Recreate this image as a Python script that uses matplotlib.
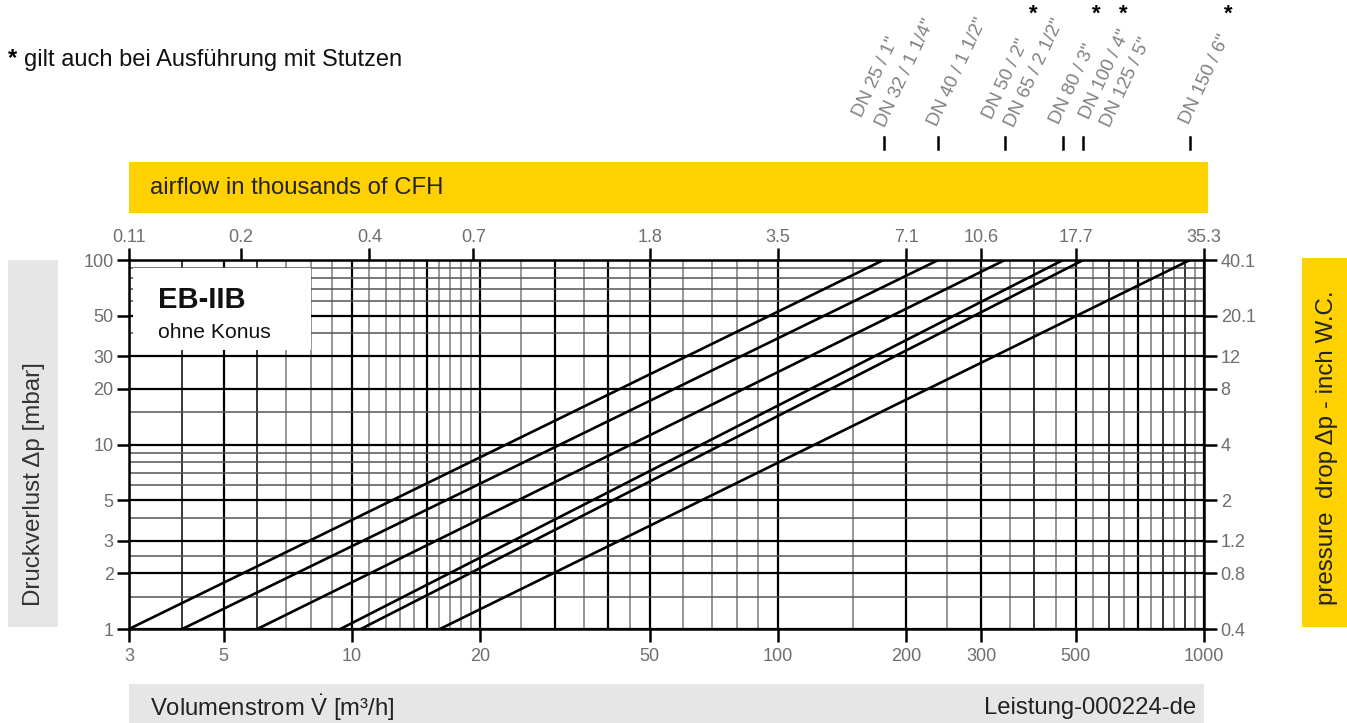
import math
import matplotlib
matplotlib.use("Agg")
import matplotlib.pyplot as plt
from matplotlib.patches import Rectangle

plt.rcParams['font.family'] = ['Liberation Sans', 'DejaVu Sans']
plt.rcParams['mathtext.fontset'] = 'custom'
plt.rcParams['mathtext.rm'] = 'Liberation Sans'

W, H = 1347, 723

# flow [m3/h] of each curve at 1 mbar and at 100 mbar
flow_at_1 = [3.0, 4.0, 6.0, 9.4, 10.5, 16.1]
flow_at_100 = [177, 238, 341, 467, 521, 927]
dp_ends = [1, 100]

# DN labels at the top
dn_labels = ['DN 25 / 1"', 'DN 32 / 1 1/4"', 'DN 40 / 1 1/2"', 'DN 50 / 2"',
             'DN 65 / 2 1/2"', 'DN 80 / 3"', 'DN 100 / 4"', 'DN 125 / 5"', 'DN 150 / 6"']
dn_star = [False, False, False, False, True, False, True, True, True]

# axes ticks
x_ticks = [3, 5, 10, 20, 50, 100, 200, 300, 500, 1000]
y_ticks = [1, 2, 3, 5, 10, 20, 30, 50, 100]
inch_wc = ['0.4', '0.8', '1.2', '2', '4', '8', '12', '20.1', '40.1']
cfh_pos = [3, 5.5, 11, 19.3, 50, 100, 200, 300, 500, 1000]
cfh_labels = ['0.11', '0.2', '0.4', '0.7', '1.8', '3.5', '7.1', '10.6', '17.7', '35.3']

# grid
x_grid = ([3, 4, 5, 6, 7, 8, 9] + list(range(10, 20)) + [20, 25, 30, 35, 40, 45]
          + [50, 60, 70, 80, 90] + list(range(100, 1001, 50)))
x_heavy = [3, 5, 10, 15, 20, 30, 40, 50, 100, 200, 300, 500, 700, 1000]
x_gray = [7, 8, 9, 11, 12, 13, 14, 16, 17, 18, 19, 25, 35, 45, 60, 70, 80, 90,
          150, 250, 350, 450, 550, 650, 750, 850, 950]
y_grid = [1, 1.5, 2, 2.5, 3, 4, 5, 6, 7, 8, 9, 10, 15, 20, 30, 40, 50, 60, 70, 80, 90, 100]
y_heavy = [1, 2, 3, 5, 10, 20, 30, 50, 100]


def fx(px):
    return px / W


def fy(py):
    return 1 - py / H


def box(x0, y0, x1, y1, color):
    fig.add_artist(Rectangle((fx(x0), fy(y1)), fx(x1) - fx(x0), fy(y0) - fy(y1),
                             transform=fig.transFigure, facecolor=color,
                             edgecolor='none', zorder=0))


fig = plt.figure(figsize=(W / 100, H / 100), dpi=100)
ax = fig.add_axes([fx(129), fy(629), fx(1204) - fx(129), fy(260) - fy(629)])
ax.set_xscale('log')
ax.set_yscale('log')
ax.set_xlim(3, 1000)
ax.set_ylim(1, 100)

tick_col = '#6e6e6e'

for v in x_grid:
    if v in x_heavy:
        ax.axvline(v, color='black', lw=1.6, zorder=1)
    elif v in x_gray:
        ax.axvline(v, color='#7a7a7a', lw=1.1, zorder=1)
    else:
        ax.axvline(v, color='black', lw=1.1, zorder=1)
for v in y_grid:
    if v in y_heavy:
        ax.axhline(v, color='black', lw=1.6, zorder=1)
    else:
        ax.axhline(v, color='#555555', lw=1.1, zorder=1)

for a, b in zip(flow_at_1, flow_at_100):
    ax.plot([a, b], dp_ends, color='black', lw=1.9, solid_capstyle='butt', zorder=3)

for s in ax.spines.values():
    s.set_linewidth(1.8)
    s.set_zorder(4)

ax.set_xticks(x_ticks)
ax.set_xticklabels([str(v) for v in x_ticks])
ax.set_yticks(y_ticks)
ax.set_yticklabels([str(v) for v in y_ticks])
ax.minorticks_off()
ax.tick_params(axis='both', direction='out', length=9, width=1.8,
               labelsize=13, labelcolor=tick_col, pad=2)
ax.tick_params(axis='x', pad=5)

axr = ax.twinx()
axr.set_yscale('log')
axr.set_ylim(1, 100)
axr.set_yticks(y_ticks)
axr.set_yticklabels(inch_wc)
axr.minorticks_off()
axr.tick_params(axis='y', direction='out', length=9, width=1.8,
                labelsize=13, labelcolor=tick_col, pad=3)
for s in axr.spines.values():
    s.set_visible(False)

axt = ax.twiny()
axt.set_xscale('log')
axt.set_xlim(3, 1000)
axt.set_xticks(cfh_pos)
axt.set_xticklabels(cfh_labels)
axt.minorticks_off()
axt.tick_params(axis='x', direction='out', length=9, width=1.8,
                labelsize=13, labelcolor=tick_col, pad=1)
for s in axt.spines.values():
    s.set_visible(False)

# white label box inside the plot
ax.add_artist(Rectangle((fx(133), fy(350)), fx(311) - fx(133), fy(268) - fy(350),
                        transform=fig.transFigure, facecolor='white',
                        edgecolor='none', zorder=2))
fig.text(fx(158), fy(300), 'EB-IIB', fontsize=21, fontweight='bold',
         va='center', ha='left', color='#111111')
fig.text(fx(158), fy(333), 'ohne Konus', fontsize=15.2, va='center', ha='left',
         color='#111111')

# side bars
box(129, 162, 1208, 213, '#FFD100')
fig.text(fx(150), fy(188), 'airflow in thousands of CFH', fontsize=17.2,
         va='center', ha='left', color='#222222')
box(129, 684, 1204, 723, '#E6E6E6')
fig.text(fx(150), fy(708), r'Volumenstrom $\dot{\mathrm{V}}$ [m' + '\u00b3/h]',
         fontsize=17.2, va='center', ha='left', color='#222222')
fig.text(fx(1196), fy(708), 'Leistung-000224-de', fontsize=17.2,
         va='center', ha='right', color='#222222')
box(8, 260, 58, 627, '#E6E6E6')
fig.text(fx(34), fy(484), 'Druckverlust \u0394p [mbar]', fontsize=17.4,
         rotation=90, va='center', ha='center', color='#333333')
box(1302, 258, 1347, 627, '#FFD100')
fig.text(fx(1327), fy(448), 'pressure  drop \u0394p - inch W.C.', fontsize=17.4,
         rotation=90, va='center', ha='center', color='#222222')

fig.text(fx(8), fy(59), '*', fontsize=17, fontweight='bold', va='center', ha='left')
fig.text(fx(24), fy(60), 'gilt auch bei Ausf\u00fchrung mit Stutzen', fontsize=17,
         va='center', ha='left', color='#111111')

# DN labels and markers above the chart
label_x = [862, 885, 937, 992, 1014, 1059, 1089, 1110, 1189]
label_y = [118, 128, 127, 120, 128, 125, 120, 128, 125]
star_x = [None, None, None, None, 1033, None, 1096, 1123, 1228]
for txt, lx, ly, st, sx in zip(dn_labels, label_x, label_y, dn_star, star_x):
    fig.text(fx(lx), fy(ly), txt, fontsize=13.5, rotation=65,
             rotation_mode='anchor', ha='left', va='baseline', color='#808080')
    if st:
        fig.text(fx(sx), fy(14), '*', fontsize=16, fontweight='bold',
                 ha='center', va='center', color='black')

for b in flow_at_100:
    px = 129 + (1204 - 129) * math.log10(b / 3) / math.log10(1000 / 3)
    fig.add_artist(plt.Line2D([fx(px), fx(px)], [fy(137), fy(149)],
                              transform=fig.transFigure, color='black', lw=1.8))

fig.savefig('out.png', dpi=100)
